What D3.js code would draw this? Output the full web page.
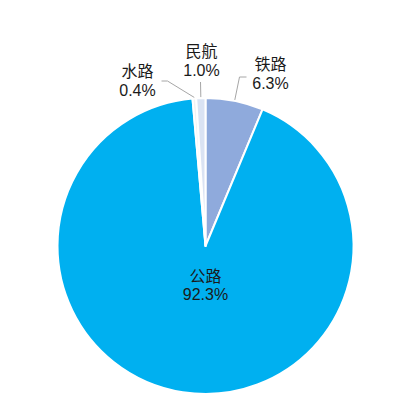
<!DOCTYPE html>
<html>
<head>
<meta charset="utf-8">
<script src="https://cdn.jsdelivr.net/npm/d3@7"></script>
<style>
  body { margin: 0; background: #fff; }
  svg text { font-family: "Liberation Sans", Arial, "Noto Sans CJK SC", sans-serif; fill: #1a1a1a; font-size: 16px; }
</style>
</head>
<body>
<svg id="chart"></svg>
<script>
// shares of transport mode, clockwise from 12 o'clock
const modes = ["铁路", "公路", "水路", "民航"];
const shares = [6.3, 92.3, 0.4, 1.0];
const colours = ["#8faadc", "#00b0f0", "#f2f2f2", "#dae3f3"];

const width = 413, height = 415;
const cx = 205.5, cy = 246, radius = 148;

const svg = d3.select("#chart")
  .attr("width", width)
  .attr("height", height);

const pie = d3.pie().sort(null).value(d => d.value);
const arcs = pie(modes.map((m, i) => ({ name: m, value: shares[i], colour: colours[i] })));

const arc = d3.arc().innerRadius(0).outerRadius(radius);

const g = svg.append("g")
  .attr("transform", `translate(${cx},${cy})`);

g.selectAll("path.slice")
  .data(arcs)
  .enter()
  .append("path")
  .attr("class", "slice")
  .attr("d", arc)
  .attr("fill", d => d.data.colour)
  .attr("stroke", "#fff")
  .attr("stroke-width", 2)
  .attr("stroke-linejoin", "round");

// point on the rim at the middle of a slice
function rim(d, r) {
  const a = (d.startAngle + d.endAngle) / 2;
  return [r * Math.sin(a), -r * Math.cos(a)];
}

// where each label sits (relative to pie centre) and the bend of its leader line
const labelLayout = {
  "铁路": { x: 65, y: -176, bend: [34, -169], end: [41, -169] },
  "民航": { x: -4, y: -189, bend: null, end: [-5, -164] },
  "水路": { x: -68, y: -169, bend: [-38, -165], end: [-44, -165] }
};

arcs.forEach(d => {
  const name = d.data.name;
  const lab = labelLayout[name];
  const txt = d.data.value.toFixed(1) + "%";

  if (!lab) {
    // inside label for the big slice
    g.append("text")
      .attr("x", 0).attr("y", 36)
      .attr("text-anchor", "middle")
      .text(name);
    g.append("text")
      .attr("x", 0).attr("y", 54)
      .attr("text-anchor", "middle")
      .text(txt);
    return;
  }

  const p0 = rim(d, radius + 1);
  const pts = [p0];
  if (lab.bend) pts.push(lab.bend);
  pts.push(lab.end);

  g.append("path")
    .attr("d", d3.line()(pts))
    .attr("fill", "none")
    .attr("stroke", "#a6a6a6")
    .attr("stroke-width", 1);

  g.append("text")
    .attr("x", lab.x).attr("y", lab.y)
    .attr("text-anchor", "middle")
    .text(name);
  g.append("text")
    .attr("x", lab.x).attr("y", lab.y + 19)
    .attr("text-anchor", "middle")
    .text(txt);
});
</script>
</body>
</html>
